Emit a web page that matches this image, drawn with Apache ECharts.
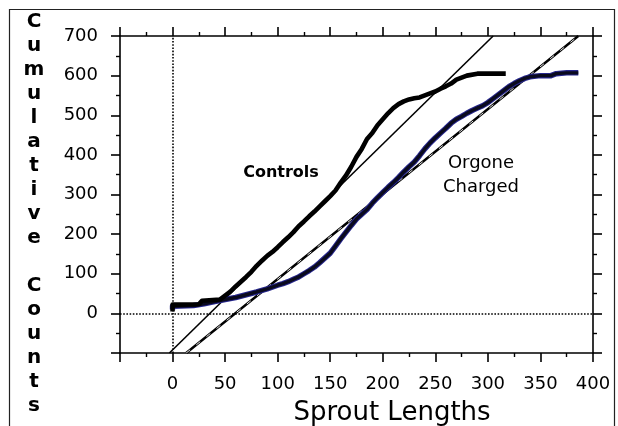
<!DOCTYPE html>
<html>
<head>
<meta charset="utf-8">
<script src="https://cdn.jsdelivr.net/npm/echarts@6/dist/echarts.min.js"></script>
<style>
html,body{margin:0;padding:0;background:#fff;}
#chart{width:618px;height:426px;}
</style>
</head>
<body>
<div id="chart"></div>
<script>
// ---- data ----
const controlsLength = [0, 0, 25, 28, 45, 50, 55, 60, 65, 70, 75, 80, 85, 90, 95, 100, 105, 110, 115, 120, 125, 130, 135, 140, 145, 150, 155, 160, 165, 170, 175, 180, 185, 190, 195, 200, 205, 210, 215, 220, 225, 230, 235, 240, 245, 250, 255, 260, 265, 270, 275, 280, 290, 300, 317];
const controlsCount  = [5, 22, 23, 32, 35, 45, 55, 68, 80, 92, 105, 120, 133, 145, 155, 167, 180, 192, 205, 220, 232, 245, 257, 270, 283, 296, 310, 330, 348, 370, 395, 415, 440, 455, 475, 490, 505, 518, 528, 535, 540, 543, 545, 550, 555, 560, 567, 573, 580, 590, 595, 600, 605, 605, 605];

const orgoneLength = [0, 0, 20, 30, 40, 50, 60, 70, 80, 90, 100, 105, 110, 115, 120, 125, 130, 135, 140, 145, 150, 155, 160, 165, 170, 175, 180, 185, 190, 195, 200, 205, 210, 215, 220, 225, 230, 235, 240, 245, 250, 255, 260, 265, 270, 275, 280, 285, 290, 295, 300, 305, 310, 315, 320, 325, 330, 335, 340, 350, 360, 365, 375, 386];
const orgoneCount  = [10, 18, 20, 24, 30, 35, 40, 47, 54, 62, 71, 75, 80, 86, 92, 100, 108, 117, 128, 140, 152, 170, 188, 205, 222, 238, 250, 262, 278, 292, 305, 318, 330, 343, 357, 370, 382, 398, 415, 430, 443, 455, 467, 480, 490, 497, 505, 512, 518, 524, 532, 542, 552, 562, 572, 580, 587, 593, 597, 600, 600, 605, 607, 607];

const controlsFitLength = [-3, 305];
const controlsFitCount  = [-100, 700];
const orgoneFitLength   = [13, 386];
const orgoneFitCount    = [-100, 700];

const xTickLabels = [0, 50, 100, 150, 200, 250, 300, 350, 400];
const yTickLabels = [0, 100, 200, 300, 400, 500, 600, 700];
const yTitleLetters = ['C','u','m','u','l','a','t','i','v','e','','C','o','u','n','t','s'];
const xTitle = 'Sprout Lengths';
const labelControls = 'Controls';
const labelOrgone = ['Orgone', 'Charged'];

// ---- helpers ----
const zip = (a, b) => a.map((v, i) => [v, b[i]]);
const chart = echarts.init(document.getElementById('chart'), null, {renderer: 'canvas'});

const axisCommon = {
  type: 'value',
  axisLine: {show: true, onZero: false, lineStyle: {color: '#000', width: 1.6}},
  axisTick: {show: true, inside: false, length: 9, lineStyle: {color: '#000', width: 1.6}},
  minorTick: {show: true, splitNumber: 2, length: 4, lineStyle: {color: '#000', width: 1.4}},
  splitLine: {show: false},
  minorSplitLine: {show: false}
};
const tickFont = {color: '#000', fontFamily: 'DejaVu Sans', fontSize: 18};

const option = {
  animation: false,
  backgroundColor: '#fff',
  grid: {left: 120, right: 25, top: 36, bottom: 73, containLabel: false},
  xAxis: [
    Object.assign({}, axisCommon, {
      position: 'bottom', min: -50, max: 400, interval: 50,
      axisLabel: Object.assign({}, tickFont, {margin: 22,
        formatter: v => (xTickLabels.indexOf(v) >= 0 ? String(v) : '')})
    }),
    Object.assign({}, axisCommon, {
      position: 'top', min: -50, max: 400, interval: 50,
      axisLabel: {show: false}
    })
  ],
  yAxis: [
    Object.assign({}, axisCommon, {
      position: 'left', min: -100, max: 700, interval: 100,
      axisLabel: Object.assign({}, tickFont, {margin: 22,
        formatter: v => (yTickLabels.indexOf(v) >= 0 ? String(v) : '')})
    }),
    Object.assign({}, axisCommon, {
      position: 'right', min: -100, max: 700, interval: 100,
      axisLabel: {show: false}
    })
  ],
  series: [
    {
      name: 'zero lines', type: 'line', data: [], silent: true,
      markLine: {
        silent: true, symbol: 'none', animation: false,
        label: {show: false},
        lineStyle: {color: '#000', type: 'dotted', width: 1.6},
        emphasis: {disabled: true},
        data: [{xAxis: 0}, {yAxis: 0}]
      }
    },
    {
      name: 'Controls fit', type: 'line', data: zip(controlsFitLength, controlsFitCount),
      showSymbol: false, silent: true, clip: true,
      lineStyle: {color: '#000', width: 1.6}
    },
    {
      name: 'Orgone fit', type: 'line', data: zip(orgoneFitLength, orgoneFitCount),
      showSymbol: false, silent: true, clip: true,
      lineStyle: {color: '#000', width: 2.4}
    },
    {
      name: 'Orgone fit hollow', type: 'line', data: zip(orgoneFitLength, orgoneFitCount),
      showSymbol: false, silent: true, clip: true,
      lineStyle: {color: '#fff', width: 0.9, type: [5, 8]}
    },
    {
      name: 'Orgone edge', type: 'line', data: zip(orgoneLength, orgoneCount),
      showSymbol: false, silent: true,
      lineStyle: {color: '#26268c', width: 5.5, join: 'round'}
    },
    {
      name: 'Orgone Charged', type: 'line', data: zip(orgoneLength, orgoneCount),
      showSymbol: false, silent: true,
      lineStyle: {color: '#0a0a1e', width: 3.4, join: 'round'}
    },
    {
      name: 'Controls', type: 'line', data: zip(controlsLength, controlsCount),
      showSymbol: false, silent: true,
      lineStyle: {color: '#000', width: 4.6, join: 'round'}
    }
  ],
  graphic: [
    {type: 'rect', silent: true, shape: {x: 9.5, y: 9.5, width: 605, height: 430},
     style: {fill: 'none', stroke: '#222', lineWidth: 1.2}},
    {type: 'text', silent: true, x: 34, y: 10,
     style: {text: yTitleLetters.join('\n'), fontFamily: 'DejaVu Sans', fontSize: 20, fontWeight: 'bold',
             lineHeight: 24, fill: '#000', align: 'center', verticalAlign: 'top'}},
    {type: 'text', silent: true, x: 392, y: 413,
     style: {text: xTitle, fontFamily: 'DejaVu Sans', fontSize: 26,
             fill: '#000', align: 'center', verticalAlign: 'middle'}},
    {type: 'text', silent: true, x: 281, y: 173,
     style: {text: labelControls, fontFamily: 'DejaVu Sans', fontSize: 16, fontWeight: 'bold',
             fill: '#000', align: 'center', verticalAlign: 'middle'}},
    {type: 'text', silent: true, x: 481, y: 175,
     style: {text: labelOrgone.join('\n'), fontFamily: 'DejaVu Sans', fontSize: 18, lineHeight: 24,
             fill: '#000', align: 'center', verticalAlign: 'middle'}}
  ]
};
chart.setOption(option);
</script>
</body>
</html>
